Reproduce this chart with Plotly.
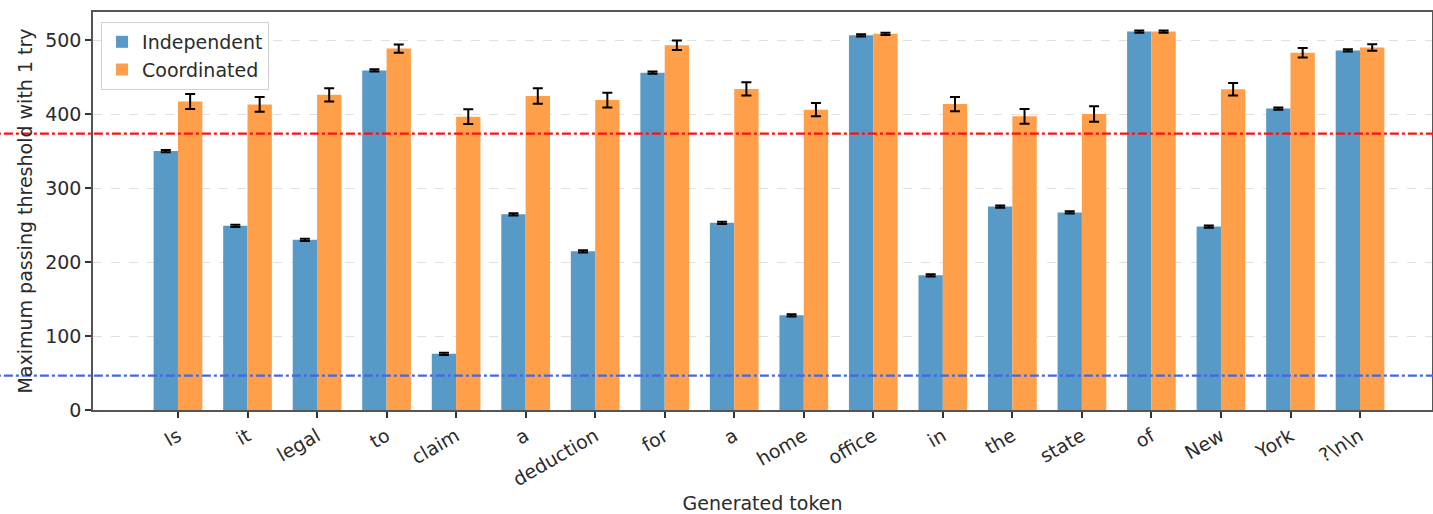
import plotly.graph_objects as go

# Generated tokens (x axis) and per-token maximum passing thresholds
tokens = ["Is", "it", "legal", "to", "claim", "a", "deduction", "for", "a",
          "home", "office", "in", "the", "state", "of", "New", "York", "?\\n\\n"]
independent = [350, 249, 230, 459, 76, 264.5, 214.5, 456, 253,
               128, 506.5, 182, 275, 267, 511.5, 248, 407.5, 486]
independent_err = [1.5] * 18
coordinated = [417, 413, 426, 488.5, 396.5, 424.5, 419, 493, 434,
               406, 508.5, 413.5, 397, 400, 511.5, 433.5, 483, 490]
coordinated_err = [10, 10, 9, 5.5, 10, 10.5, 10, 6.5, 9,
                   9, 1.5, 9.5, 10, 10.5, 1.5, 8.5, 6.5, 4.5]
upper_threshold = 373.5
lower_threshold = 46.5

positions = list(range(len(tokens)))
FONT = "DejaVu Sans"
TEXT = "#2b2b2b"
AXIS = "#555555"

fig = go.Figure()
fig.add_trace(go.Bar(
    x=positions, y=independent, name="Independent",
    marker=dict(color="rgb(87,153,199)", line=dict(width=0)),
    error_y=dict(type="data", array=independent_err, color="black",
                 thickness=2, width=5),
))
fig.add_trace(go.Bar(
    x=positions, y=coordinated, name="Coordinated",
    marker=dict(color="rgb(255,159,74)", line=dict(width=0)),
    error_y=dict(type="data", array=coordinated_err, color="black",
                 thickness=2, width=5),
))

# Reference thresholds spanning the full figure width
for level, colour in [(upper_threshold, "#ff1010"), (lower_threshold, "royalblue")]:
    fig.add_shape(type="line", xref="paper", yref="y",
                  x0=-0.08, x1=1.01, y0=level, y1=level,
                  line=dict(color=colour, width=2.2, dash="dashdot"),
                  layer="above")

fig.update_layout(
    width=1433, height=514,
    margin=dict(l=93, r=1, t=12, b=104),
    paper_bgcolor="white", plot_bgcolor="white",
    barmode="group", bargap=0.3, bargroupgap=0,
    font=dict(family=FONT, size=19, color=TEXT),
    legend=dict(x=0.006, y=0.975, xanchor="left", yanchor="top",
                bgcolor="rgba(255,255,255,0.85)", bordercolor="#d0d0d0",
                borderwidth=1, font=dict(size=19), tracegroupgap=2),
    xaxis=dict(
        range=[-1.222, 18.035], automargin=False,
        tickmode="array", tickvals=positions, ticktext=tokens,
        tickangle=-30, ticks="outside", ticklen=6, tickwidth=1.5,
        tickcolor="#333", showline=True, linecolor=AXIS, linewidth=1.5,
        mirror=True, showgrid=False, zeroline=False,
        tickfont=dict(size=19),
        title=dict(text="Generated token", standoff=16, font=dict(size=19)),
    ),
    yaxis=dict(
        range=[0, 538], automargin=False,
        tickvals=[0, 100, 200, 300, 400, 500],
        ticks="outside", ticklen=6, tickwidth=1.5, tickcolor="#333",
        showline=True, linecolor=AXIS, linewidth=1.5, mirror=True,
        showgrid=True, gridcolor="#e0e0e0", griddash="dash", gridwidth=1,
        zeroline=False, tickfont=dict(size=19),
        title=dict(text="Maximum passing threshold with 1 try", standoff=8,
                   font=dict(size=19)),
    ),
)

fig.write_html("out.html")
